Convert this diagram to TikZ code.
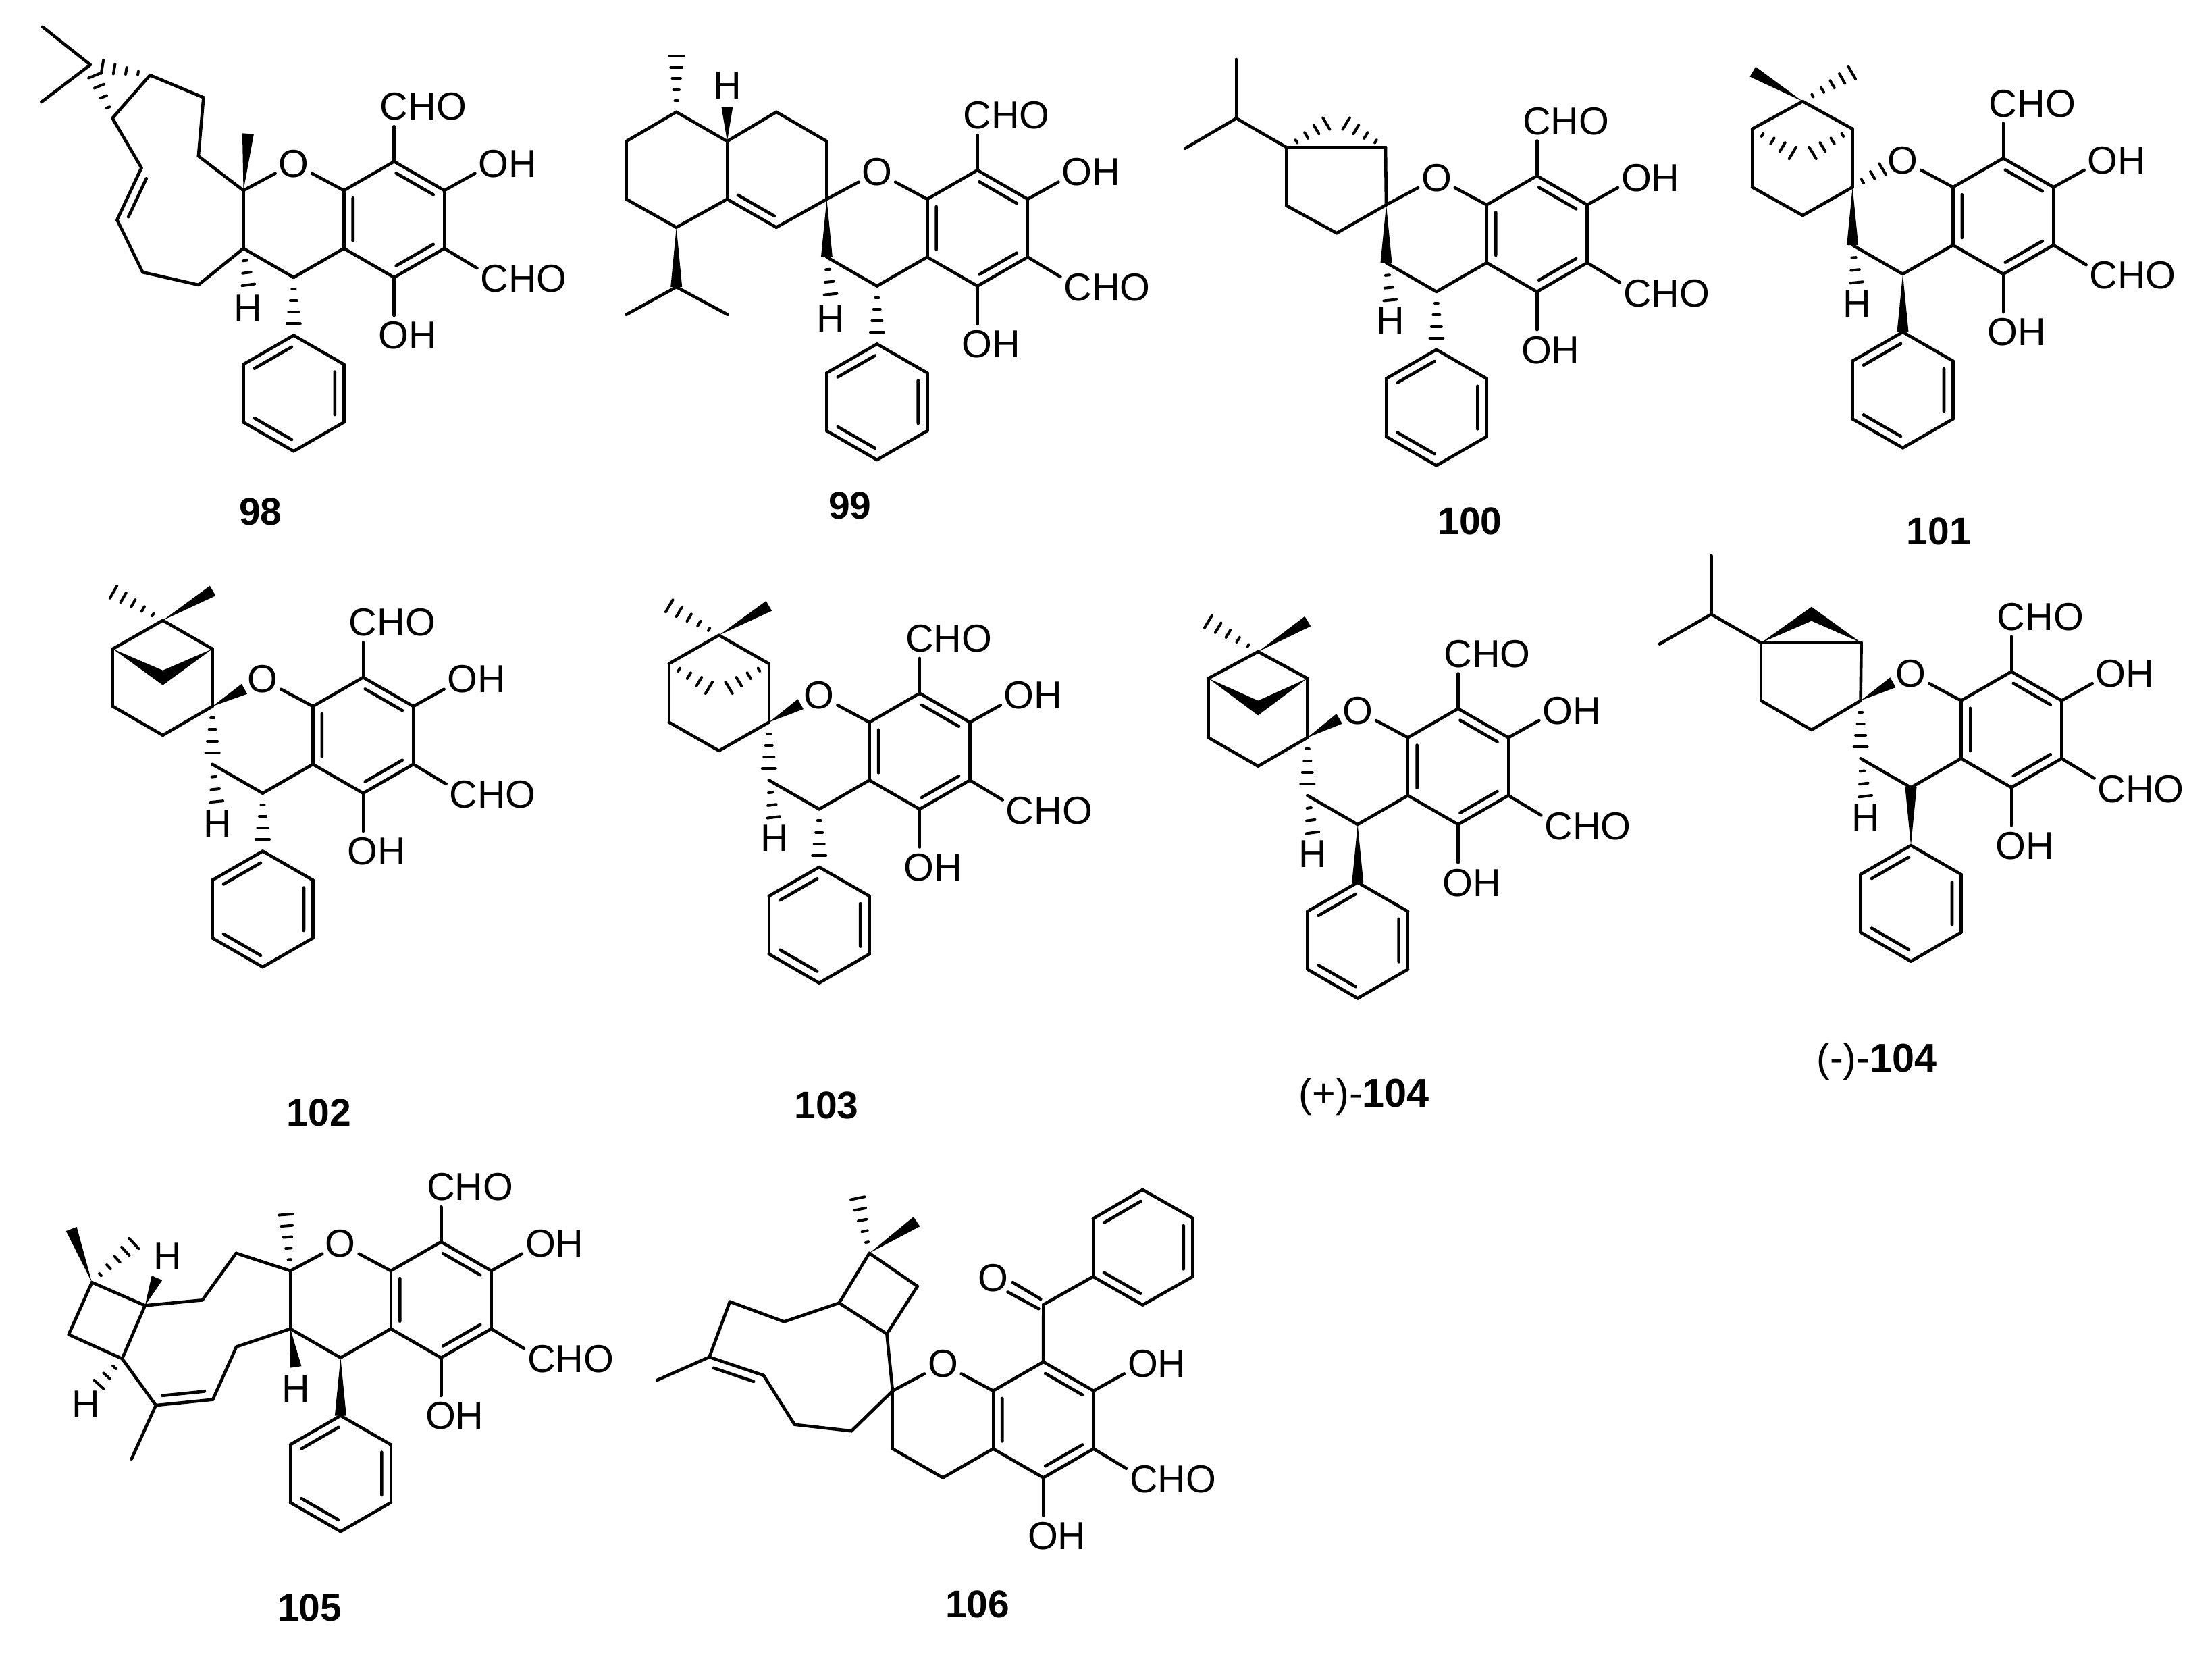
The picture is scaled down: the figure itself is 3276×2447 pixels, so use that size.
\documentclass[tikz,border=0pt]{standalone}
\usepackage{fontspec}
\setmainfont{Liberation Sans}
\usetikzlibrary{calc}

\newcommand{\atoms}[1]{\foreach \n/\x/\y in {#1} {\coordinate (\n) at (\x,\y);}}
\newcommand{\bonds}[1]{\foreach \p/\q in {#1} {\draw[bond] (\p) -- (\q);}}
\newcommand{\dbonds}[1]{\foreach \p/\q in {#1} {\draw[bond] ($(\p)!.13!(\q)!.18!90:(\q)$) -- ($(\q)!.13!(\p)!.18!-90:(\p)$);}}
\newcommand{\wedgebond}[2]{\fill (#1) -- ($(#2)!.85mm!90:(#1)$) -- ($(#2)!.85mm!-90:(#1)$) -- cycle;}
\newcommand{\hashbond}[3]{\foreach \k in {1,...,#3} {
	\pgfmathsetmacro{\hpos}{\k/(#3+1)}
	\pgfmathsetmacro{\hw}{1.25*\hpos}
	\draw[bond, line width = 0.4mm] ($(#1)!\hpos!(#2)!\hw mm!90:(#2)$) -- ($(#1)!\hpos!(#2)!\hw mm!-90:(#2)$);}}
\newcommand{\corering}[3]{\begin{scope}[shift={(#2,#3)},x=7.44mm,y=-4.29mm,name prefix=#1]
	\atoms{c2/0/0,c3/0/2,c4/1/3,c4a/2/2,c8a/2/0,c8/3/-1,c7/4/0,c6/4/2,c5/3/3,
		ohr/4.61/-.59,chr/4.65/2.68,ohb/3/4.31}
	\node[oxy] (o) at (1,-.93) {O};
	\node[lbl] (ohrl) at (5.26,-.93) {OH};
	\node[lbl] (chrl) at (5.58,3.05) {CHO};
	\node[lbl] (ohbl) at (3.27,5.01) {OH};
	\bonds{o/c8a,c8a/c8,c8/c7,c7/c6,c6/c5,c5/c4a,c4a/c8a,c3/c4,c4/c4a,c7/ohr,c6/chr,c5/ohb}
	\dbonds{c7/c8,c5/c6,c8a/c4a}
	\end{scope}}
\newcommand{\arylpart}[1]{\begin{scope}[shift={(#1c2)},x=7.44mm,y=-4.29mm,name prefix=#1]
	\atoms{cht/3/-2.21,ph1/1/5,ph2/2/6,ph3/2/8,ph4/1/9,ph5/0/8,ph6/0/6}
	\node[lbl] (chtl) at (3.58,-2.89) {CHO};
	\bonds{c8/cht,ph1/ph2,ph2/ph3,ph3/ph4,ph4/ph5,ph5/ph6,ph6/ph1}
	\dbonds{ph1/ph6,ph5/ph4,ph3/ph2}
	\end{scope}}

\begin{document}
\begin{tikzpicture}[
    x = 0.1mm, y = -0.1mm,
    bond/.style = {line width = 0.46mm, line cap = round, line join = round},
    lbl/.style = {inner sep = 0pt, font = \fontsize{16.4}{18}\selectfont},
    oxy/.style = {lbl, circle, minimum size = 6mm},
    cpd/.style = {lbl, font = \fontsize{16.2}{18}\selectfont\bfseries},
    cpdb/.style = {lbl, font = \fontsize{16.9}{18}\selectfont}]
\useasboundingbox (0,0) rectangle (3276,2447);

\corering{m98}{360.5}{282.1}
\arylpart{m98}
\atoms{m98a/133.8/95.9,m98me1/63.1/39.8,m98me2/61.4/151,m98b/222.2/111.2,m98d/166.5/175,
	m98e/301.4/144.4,m98f/293.9/231.1,m98g/209.5/248.5,m98i/173.4/325.5,m98j/211.3/403.1,
	m98k/293.9/421.9,m98me3/367.4/198,m98hh/370.3/439.8}
\bonds{m98a/m98me1,m98a/m98me2,m98b/m98d,m98b/m98e,m98e/m98f,m98f/m98c2,m98d/m98g,
	m98g/m98i,m98i/m98j,m98j/m98k,m98k/m98c3,m98c2/m98c3,m98c2/m98o}
\dbonds{m98g/m98i}
\hashbond{m98b}{m98a}{4}
\hashbond{m98d}{m98a}{4}
\wedgebond{m98c2}{m98me3}
\hashbond{m98c3}{m98hh}{3}
\hashbond{m98c4}{m98ph1}{4}
\node[lbl] (m98h) at (367.4,456.6) {H};
\node[cpd] (n98) at (385.8,757.7) {98};

\corering{m99}{1224.4}{294.9}
\arylpart{m99}
\atoms{m99a/1001.7/165.8,m99ame/1001.7/66.6,m99b/1076.9/209.2,m99bh/1076.9/158.2,m99c/1149.8/165.8,
	m99d/1224.4/209.2,m99e/1149.8/336.7,m99f/1076.9/294.9,m99g/1001.7/336.7,m99i/927.6/294.9,
	m99j/927.6/209.2,m99k/1001.7/425,m99me1/927.6/465.8,m99me2/1077.5/465.8,m99hh/1231.9/454}
\bonds{m99a/m99b,m99b/m99c,m99c/m99d,m99d/m99c2,m99c2/m99e,m99e/m99f,m99f/m99b,m99f/m99g,
	m99g/m99i,m99i/m99j,m99j/m99a,m99k/m99me1,m99k/m99me2,m99c2/m99o}
\dbonds{m99f/m99e}
\hashbond{m99a}{m99ame}{5}
\wedgebond{m99b}{m99bh}
\wedgebond{m99g}{m99k}
\wedgebond{m99c2}{m99c3}
\hashbond{m99c3}{m99hh}{3}
\hashbond{m99c4}{m99ph1}{4}
\node[lbl] (m99h1) at (1076.9,126.5) {H};
\node[lbl] (m99h2) at (1230.2,471.9) {H};
\node[cpd] (n99) at (1258.9,749) {99};

\corering{m100}{2053}{303.3}
\arylpart{m100}
\atoms{m100a/2052/218.1,m100b/1905.1/218.1,m100c/1905.1/304.4,m100d/1979.6/345.2,m100e/1831.1/175.2,
	m100me1/1831.1/87.9,m100me2/1755.1/219.7,m100ap/1979.1/174.2,m100hh/2060.7/462.9}
\bonds{m100c2/m100a,m100a/m100b,m100b/m100c,m100c/m100d,m100d/m100c2,m100b/m100e,
	m100e/m100me1,m100e/m100me2,m100c2/m100o}
\hashbond{m100b}{m100ap}{4}
\hashbond{m100a}{m100ap}{4}
\wedgebond{m100c2}{m100c3}
\hashbond{m100c3}{m100hh}{3}
\hashbond{m100c4}{m100ph1}{4}
\node[lbl] (m100h) at (2059.7,474.9) {H};
\node[cpd] (n100) at (2177,771.4) {100};

\corering{m101}{2743.6}{277.2}
\arylpart{m101}
\atoms{m101a/2669.8/150.1,m101b/2595/190.9,m101c/2743.6/190.9,m101d/2595/277.2,m101e/2669.8/319,
	m101me1/2595.8/106.2,m101me2/2757.4/99.4,m101ap/2669.8/235.4,m101ho/2803/241.6,m101hh/2751.5/436.7}
\bonds{m101a/m101b,m101a/m101c,m101b/m101d,m101d/m101e,m101e/m101c2,m101c/m101c2}
\wedgebond{m101a}{m101me1}
\hashbond{m101a}{m101me2}{5}
\hashbond{m101b}{m101ap}{4}
\hashbond{m101c}{m101ap}{4}
\hashbond{m101c2}{m101ho}{3}
\wedgebond{m101c2}{m101c3}
\hashbond{m101c3}{m101hh}{3}
\wedgebond{m101c4}{m101ph1}
\node[lbl] (m101h) at (2750.5,449.8) {H};
\node[cpd] (n101) at (2871.3,787) {101};

\corering{m102}{314.6}{1046}
\arylpart{m102}
\atoms{m102a/241.1/918.7,m102b/167.1/961,m102c/314.6/961,m102d/167.1/1046,m102e/241.1/1088.8,
	m102me1/315.1/874.9,m102me2/153.4/868.3,m102ap/241.1/992.8,m102aq/241.1/1014.7,
	m102ho/362/1020.2,m102hh/322.8/1205.6}
\bonds{m102a/m102b,m102a/m102c,m102b/m102d,m102d/m102e,m102e/m102c2,m102c/m102c2}
\wedgebond{m102a}{m102me1}
\hashbond{m102a}{m102me2}{5}
\fill (m102b) -- (m102ap) -- (m102c) -- (m102aq) -- cycle;
\wedgebond{m102c2}{m102ho}
\hashbond{m102c2}{m102c3}{4}
\hashbond{m102c3}{m102hh}{3}
\hashbond{m102c4}{m102ph1}{4}
\node[lbl] (m102h) at (322.8,1219.3) {H};
\node[cpd] (n102) at (472.2,1648.3) {102};

\corering{m103}{1138.8}{1069.6}
\arylpart{m103}
\atoms{m103a/1064.8/940.7,m103b/990.8/982.9,m103c/1138.8/982.9,m103d/990.8/1069.6,m103e/1064.8/1111.8,
	m103me1/1138.8/897.3,m103me2/976.5/888.6,m103ap/1064.8/1027.3,m103ho/1185.7/1042.7,m103hh/1148/1228.7}
\bonds{m103a/m103b,m103a/m103c,m103b/m103d,m103d/m103e,m103e/m103c2,m103c/m103c2}
\wedgebond{m103a}{m103me1}
\hashbond{m103a}{m103me2}{5}
\hashbond{m103b}{m103ap}{4}
\hashbond{m103c}{m103ap}{4}
\wedgebond{m103c2}{m103ho}
\hashbond{m103c2}{m103c3}{4}
\hashbond{m103c3}{m103hh}{3}
\hashbond{m103c4}{m103ph1}{4}
\node[lbl] (m103h) at (1146.9,1241.3) {H};
\node[cpd] (n103) at (1224,1637.3) {103};

\corering{mp}{1936.3}{1092.3}
\arylpart{mp}
\atoms{mpa/1863.2/965.1,mpb/1789.6/1004.6,mpc/1936.3/1004.6,mpd/1789.6/1092.3,mpe/1863.2/1134.6,
	mpme1/1936.8/920.1,mpme2/1774.6/911.9,mpap/1863.2/1037.5,mpaq/1863.2/1059.4,
	mpho/1983.6/1064.4,mphh/1946.3/1251.4}
\bonds{mpa/mpb,mpa/mpc,mpb/mpd,mpd/mpe,mpe/mpc2,mpc/mpc2}
\wedgebond{mpa}{mpme1}
\hashbond{mpa}{mpme2}{5}
\fill (mpb) -- (mpap) -- (mpc) -- (mpaq) -- cycle;
\wedgebond{mpc2}{mpho}
\hashbond{mpc2}{mpc3}{4}
\hashbond{mpc3}{mphh}{3}
\wedgebond{mpc4}{mpph1}
\node[lbl] (mph) at (1943.8,1265.1) {H};
\node[cpdb] (np) at (2020.4,1624.4) {(+)-\textbf{104}};

\corering{mm}{2755.6}{1037.5}
\arylpart{mm}
\atoms{mmb/2608/951.9,mmc/2756.6/951.9,mmd/2608/1037.5,mme/2682.9/1080.9,mmf/2534.3/909.7,
	mmme1/2534.3/823,mmme2/2457.9/953.6,mmap/2682.9/898.7,mmaq/2682.9/919.6,
	mmho/2803.5/1010.6,mmhh/2765.1/1197.7}
\bonds{mmb/mmc,mmb/mmd,mmd/mme,mme/mmc2,mmc/mmc2,mmb/mmf,mmf/mmme1,mmf/mmme2}
\fill (mmb) -- (mmap) -- (mmc) -- (mmaq) -- cycle;
\wedgebond{mmc2}{mmho}
\hashbond{mmc2}{mmc3}{4}
\hashbond{mmc3}{mmhh}{3}
\wedgebond{mmph1}{mmc4}
\node[lbl] (mmh) at (2763.5,1210.3) {H};
\node[cpdb] (nm) at (2779.3,1572.4) {(-)-\textbf{104}};

\corering{m105}{430}{1882}
\arylpart{m105}
\atoms{m105me/422/1782,m105a/349.7/1855.8,m105b/299.7/1925.3,m105c/214.8/1933.4,m105d/136.1/1899.1,
	m105e/101.7/1976.3,m105f/180.9/2012.1,m105g/230.8/2081.1,m105i/315.2/2072.6,m105j/350.2/1994.4,
	m105me1/194.7/2160.7,m105me2/105.7/1820,m105me3/210.7/1830,m105hw/232.5/1892.5,m105hf/135/2063,
	m105hc/438/2024.4}
\bonds{m105c2/m105c3,m105c2/m105o,m105c2/m105a,m105a/m105b,m105b/m105c,m105c/m105d,m105d/m105e,m105e/m105f,
	m105f/m105c,m105f/m105g,m105g/m105i,m105i/m105j,m105j/m105c3,m105g/m105me1}
\dbonds{m105g/m105i}
\hashbond{m105c2}{m105me}{5}
\wedgebond{m105d}{m105me2}
\hashbond{m105d}{m105me3}{5}
\wedgebond{m105c}{m105hw}
\hashbond{m105f}{m105hf}{3}
\wedgebond{m105c3}{m105hc}
\wedgebond{m105c4}{m105ph1}
\node[lbl] (m105h1) at (248,1861) {H};
\node[lbl] (m105h2) at (127.5,2079.7) {H};
\node[lbl] (m105h3) at (438,2056.4) {H};
\node[cpd] (n105) at (458.7,2381) {105};

\corering{m106}{1322}{2059.7}
\atoms{m106co/1545.3/1932,m106d1/1499.9/1899.1,m106d2/1541.3/1923.9,m106d3/1492.5/1913.4,m106d4/1538.4/1938.2,
	m106a1/1618.8/1890.6,m106a2/1618.8/1804.8,m106a3/1692.2/1761.9,m106a4/1766.3/1803.9,m106a5/1766.3/1890.6,
	m106a6/1692.2/1932.5,m106q1/1313.4/1975.4,m106q2/1358.7/1904.9,m106q3/1287.5/1855.8,m106q4/1242.8/1929.6,
	m106q5/1161.3/1957.3,m106q6/1080.9/1927.7,m106q7/1050.5/2009.7,m106q8/1130.8/2036.8,m106q9/1176.8/2109.7,
	m106q10/1261.1/2119.2,m106me/973/2044,m106me1/1357.6/1809.1,m106me2/1266.9/1758.1}
\bonds{m106c2/m106c3,m106c2/m106o,m106c8/m106co,m106d1/m106d2,m106d3/m106d4,m106co/m106a1,m106a1/m106a2,m106a2/m106a3,
	m106a3/m106a4,m106a4/m106a5,m106a5/m106a6,m106a6/m106a1,m106c2/m106q1,m106q1/m106q2,m106q2/m106q3,
	m106q3/m106q4,m106q4/m106q1,m106q4/m106q5,m106q5/m106q6,m106q6/m106q7,m106q7/m106q8,m106q8/m106q9,
	m106q9/m106q10,m106q10/m106c2,m106q7/m106me}
\dbonds{m106a3/m106a2,m106a5/m106a4,m106a1/m106a6,m106q8/m106q7}
\wedgebond{m106q3}{m106me1}
\hashbond{m106q3}{m106me2}{5}
\node[oxy] (m106ok) at (1470.7,1893) {O};
\node[cpd] (n106) at (1447.7,2375.6) {106};
\end{tikzpicture}
\end{document}
